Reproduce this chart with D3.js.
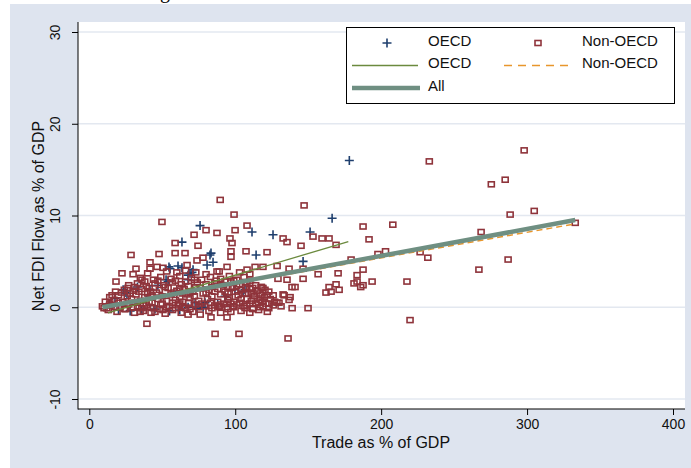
<!DOCTYPE html>
<meta charset="utf-8">
<style>
body { margin: 0; background: #fff; }
svg { display: block; font-family: Arial, "Liberation Sans", sans-serif; }
.axis text { font-size: 14px; fill: #111; }
.axis line { stroke: #000; stroke-width: 1; }
.axis path { display: none; }
.grid line { stroke: #e3e8f0; stroke-width: 1.5; }
.legend text { font-size: 15px; fill: #111; }
</style>
<body>
<div id="chart"></div>
<script src="https://cdnjs.cloudflare.com/ajax/libs/d3/7.8.5/d3.min.js"></script>
<script>
// tick values
var xTicks = [0, 100, 200, 300, 400];
var yTicks = [-10, 0, 10, 20, 30];

// OECD countries: [trade % of GDP, net FDI % of GDP]
var oecdPoints = [
    [178.2, 16.0], [166.4, 9.7], [125.9, 7.9], [151.3, 8.2], [146.5, 5.0], [75.9, 8.9],
    [111.5, 8.2], [63.5, 7.1], [114.3, 5.7], [83.4, 5.9], [84.8, 4.9], [71.1, 4.1],
    [69.0, 3.7], [60.8, 4.5], [105.4, 1.7], [78.0, 0.0], [99.8, 1.9], [72.5, 0.5],
    [55.3, 4.2], [24.5, 1.6], [17.6, 1.0], [52.6, 3.0], [41.6, 1.9], [23.2, 1.9],
    [63.5, 4.3], [67.7, 3.0], [79.3, 0.5], [60.2, 1.7], [25.8, 1.5], [54.0, 2.8],
    [70.4, 3.8], [80.7, 4.6], [67.7, 0.0], [73.8, -0.1], [82.7, 5.7], [54.6, 4.4],
    [67.7, 3.5], [106.7, 1.9], [20, -0.3], [28, -0.4], [36, -0.3], [45, -0.2],
    [55, -0.4], [62, -0.3], [88, 0.3], [93, 1.2], [47, 2.4], [33, 2.2], [14, 0.4], [39, 0.8]
];

// Non-OECD countries
var nonOecdPoints = [
    [233, 15.9], [298, 17.1], [275.5, 13.4], [285, 13.9], [288.4, 10.1], [304.9, 10.5],
    [333, 9.2], [268.5, 8.2], [187.6, 8.8], [208, 9.0], [191.7, 7.4], [203, 6.1],
    [197.8, 5.8], [226.7, 6.0], [232, 5.4], [287, 5.2], [267, 4.1], [187.6, 4.1],
    [193.8, 2.8], [217.7, 2.8], [187.6, 2.4], [186, 2.2], [219.8, -1.4],
    [147.2, 11.1], [132.8, 7.5], [135.5, 7.1], [145.1, 6.7], [153.3, 7.7], [159.5, 7.5],
    [164.3, 7.5], [169.1, 6.8], [121.8, 6.0], [128.7, 4.5], [136.9, 4.2], [146.5, 4.2],
    [179.4, 5.2], [170.5, 3.7], [156.8, 3.6], [129.3, 3.1], [135.5, 3.0], [146.5, 3.1],
    [183.5, 3.5], [181.4, 2.6], [183.5, 2.8], [169.1, 2.5], [164.3, 2.2], [171.2, 1.9],
    [162.2, 1.6], [165.7, 1.7], [138.9, 2.2], [141.0, 2.2], [132.8, 1.4], [137.6, 1.1],
    [149.9, -0.1], [136.2, -3.4], [133.5, 1.3], [136.9, 0.8], [128.6, 0.5], [131.4, 0.1],
    [123.2, 0.4], [118.4, 0.6], [119.0, 2.1], [120.4, 1.9], [121.8, 1.3], [112.2, 1.4],
    [108.1, 0.9], [98.5, 0.1], [94.4, 0.0], [88.9, 0.0], [106.7, -0.1], [112.2, -0.1],
    [139.0, -0.1], [89.7, 11.7], [99.2, 10.1], [71.8, 7.9], [80.0, 8.4], [87.5, 8.1],
    [99.9, 8.4], [108.1, 8.9], [96.4, 7.5], [97.8, 7.0], [74.5, 6.7], [97.1, 6.1],
    [97.1, 5.5], [107.4, 6.1], [65.6, 5.9], [58.8, 7.0], [58.8, 5.9], [73.8, 5.1],
    [77.9, 5.4], [67.0, 4.6], [94.4, 4.4], [87.5, 3.9], [113.6, 4.4], [119.0, 4.4],
    [108.1, 4.1], [117.7, 2.2], [118.4, 1.3], [67.7, -0.8], [83.4, -1.1], [94.4, -1.1],
    [86.2, -2.9], [102.6, -2.9], [49.8, 9.3], [28.6, 5.7], [47.8, 5.8], [41.6, 4.9],
    [32.0, 4.2], [22.4, 3.7], [30.0, 3.6], [41.6, 4.2], [46.4, 4.4], [50.5, 4.3],
    [18.3, 2.8], [26.5, 2.1], [36.1, 3.0], [15.6, 1.3], [10.1, -0.1], [34.8, -0.5],
    [42.3, -0.6], [50.5, -0.3], [39.5, -1.8],
    // dense cluster near the origin
    [13, -0.3], [19, -0.5], [24, -0.2], [31, -0.6], [37, -0.4], [45, -0.5], [52, -0.7],
    [57, -0.3], [63, -0.6], [71, -0.5], [76, -0.8], [82, -0.4], [90, -0.6], [97, -0.5],
    [104, -0.4], [110, -0.6], [116, -0.3], [122, -0.5],
    [12, -0.1], [18, 0.0], [25, -0.2], [30, 0.0], [36, -0.1], [42, 0.0], [48, -0.2], [53, 0.0],
    [59, -0.1], [64, 0.1], [69, -0.2], [75, 0.0], [84, -0.1], [89, 0.1], [95, -0.2], [99, 0.0],
    [106, 0.1], [112, -0.2], [117, 0.0], [123, -0.1],
    [9, 0.1], [15, 0.2], [21, 0.0], [27, 0.3], [33, 0.1], [39, 0.2], [44, -0.1], [49, 0.3],
    [55, 0.1], [61, 0.2], [66, -0.1], [73, 0.3], [79, 0.1], [86, 0.2], [92, 0.4], [101, 0.3],
    [108, 0.2], [114, 0.4], [119, 0.1], [126, 0.2], [130, 0.5],
    [14, 0.4], [20, 0.5], [26, 0.4], [31, 0.5], [37, 0.4], [43, 0.5], [50, 0.4], [57, 0.5],
    [62, 0.4], [68, 0.5], [77, 0.4], [83, 0.5], [90, 0.3], [97, 0.4], [103, 0.5], [110, 0.4],
    [116, 0.5], [121, 0.4], [127, 0.6],
    [11, 0.6], [17, 0.8], [23, 0.6], [29, 0.9], [35, 0.7], [41, 0.6], [47, 0.9], [53, 0.7],
    [59, 0.8], [64, 0.6], [69, 1.0], [75, 0.7], [81, 0.9], [88, 0.6], [95, 0.8], [99, 0.6],
    [104, 0.9], [111, 0.7], [117, 0.8], [124, 0.9],
    [14, 1.1], [20, 1.3], [26, 1.2], [32, 1.4], [38, 1.1], [43, 1.3], [50, 1.2], [56, 1.4],
    [62, 1.1], [67, 1.4], [72, 1.2], [78, 1.5], [84, 1.2], [90, 1.4], [96, 1.1], [102, 1.3],
    [107, 1.5], [113, 1.2], [120, 1.1], [126, 1.3],
    [22, 1.6], [28, 1.5], [34, 1.7], [40, 1.5], [46, 1.6], [58, 1.6], [64, 1.5], [69, 1.7],
    [80, 1.6], [86, 1.7], [95, 1.5], [100, 1.7], [105, 1.5], [111, 1.6], [117, 1.5], [123, 1.7],
    [18, 1.7], [24, 1.9], [30, 1.8], [36, 2.0], [42, 1.7], [48, 1.9], [54, 2.1], [60, 1.8],
    [65, 2.0], [71, 1.7], [76, 2.1], [82, 1.9], [88, 2.0], [93, 1.7], [98, 2.1], [104, 1.9],
    [110, 2.0], [115, 1.8],
    [31, 2.2], [41, 2.1], [52, 2.2], [62, 2.1], [73, 2.2], [84, 2.2], [95, 2.2], [101, 2.3],
    [107, 2.2], [112, 2.1], [118, 2.2],
    [27, 2.4], [33, 2.6], [39, 2.3], [45, 2.6], [51, 2.4], [57, 2.7], [63, 2.5], [68, 2.3],
    [74, 2.7], [80, 2.5], [86, 2.6], [92, 2.4], [97, 2.7], [103, 2.5], [108, 2.6], [114, 2.4],
    [38, 2.8], [47, 2.9], [59, 2.9], [66, 2.8], [72, 3.0], [87, 2.9], [93, 2.8], [99, 2.9], [110, 2.9],
    [35, 3.2], [44, 3.0], [49, 3.3], [56, 3.1], [62, 3.4], [70, 3.2], [77, 3.0], [83, 3.3],
    [90, 3.1], [96, 3.4], [101, 3.0], [106, 3.3],
    [40, 3.7], [53, 3.9], [60, 3.8], [66, 4.0], [73, 3.8], [80, 3.6], [89, 3.9], [103, 3.8], [110, 3.6]
];

// fitted lines (end points)
var fitOecd = [[12.8, -0.6], [177.5, 7.15]];
var fitNonOecd = [[9.5, 0.05], [331.5, 9.05]];
var fitAll = [[9, 0.0], [333, 9.5]];

var W = 691, H = 468;
var plot = { left: 78, right: 685, top: 22, bottom: 409 };

var svg = d3.select("#chart").append("svg")
    .attr("width", W)
    .attr("height", H);

// graph region
svg.append("rect")
    .attr("x", 10).attr("y", 4)
    .attr("width", W - 10).attr("height", H - 4)
    .attr("fill", "#dee4ef");

// bit of text cut off above the figure
svg.append("text")
    .attr("x", 160).attr("y", -2)
    .style("font-family", "'Liberation Serif', serif")
    .style("font-size", "20px")
    .text("g");

svg.append("rect")
    .attr("x", plot.left).attr("y", plot.top)
    .attr("width", plot.right - plot.left).attr("height", plot.bottom - plot.top)
    .attr("fill", "#fff");

var x = d3.scaleLinear().domain([0, 400]).range([89.3, 673]);
var y = d3.scaleLinear().domain([-10, 30]).range([399, 32]);

// grid lines
svg.append("g")
    .attr("class", "grid")
    .selectAll("line")
    .data(yTicks)
    .enter().append("line")
    .attr("x1", plot.left).attr("x2", plot.right)
    .attr("y1", function(d) { return y(d); })
    .attr("y2", function(d) { return y(d); });

// axes
svg.append("g")
    .attr("class", "axis axis--x")
    .attr("transform", "translate(0," + plot.bottom + ")")
    .call(d3.axisBottom(x).tickValues(xTicks).tickSize(6).tickPadding(4)
        .tickFormat(function(d) { return String(d); }));

var yAxis = svg.append("g")
    .attr("class", "axis axis--y")
    .attr("transform", "translate(" + plot.left + ",0)")
    .call(d3.axisLeft(y).tickValues(yTicks).tickSize(6)
        .tickFormat(function(d) { return String(d); }));

yAxis.selectAll("text")
    .attr("transform", "rotate(-90)")
    .attr("x", 0)
    .attr("y", -18)
    .attr("dy", 0)
    .style("text-anchor", "middle");

svg.append("line")
    .attr("x1", plot.left).attr("x2", plot.left)
    .attr("y1", plot.top).attr("y2", plot.bottom + 0.5)
    .attr("stroke", "#000");
svg.append("line")
    .attr("x1", plot.left).attr("x2", plot.right)
    .attr("y1", plot.bottom).attr("y2", plot.bottom)
    .attr("stroke", "#000");

// axis titles
svg.append("text")
    .attr("x", 381).attr("y", 448)
    .style("text-anchor", "middle")
    .style("font-size", "16px")
    .attr("fill", "#111")
    .text("Trade as % of GDP");

svg.append("text")
    .attr("transform", "translate(44,216) rotate(-90)")
    .style("text-anchor", "middle")
    .style("font-size", "16px")
    .attr("fill", "#111")
    .text("Net FDI Flow as % of GDP");

var navy = "#1f3f6e", maroon = "#8f343b", green = "#6b8a3e", orange = "#e8962c", teal = "#6f8f82";

function plus(g, cx, cy) {
    g.append("path")
        .attr("d", "M" + (cx - 4.5) + "," + cy + "H" + (cx + 4.5) + "M" + cx + "," + (cy - 4.5) + "V" + (cy + 4.5))
        .attr("stroke", navy)
        .attr("stroke-width", 1.6)
        .attr("fill", "none");
}

// OECD scatter
var oecd = svg.append("g");
oecdPoints.forEach(function(d) { plus(oecd, x(d[0]), y(d[1])); });

// Non-OECD scatter
svg.append("g")
    .selectAll("rect")
    .data(nonOecdPoints)
    .enter().append("rect")
    .attr("x", function(d) { return x(d[0]) - 3; })
    .attr("y", function(d) { return y(d[1]) - 2.5; })
    .attr("width", 6)
    .attr("height", 5)
    .attr("fill", "none")
    .attr("stroke", maroon)
    .attr("stroke-width", 1.6);

// fit lines
var line = d3.line()
    .x(function(d) { return x(d[0]); })
    .y(function(d) { return y(d[1]); });

svg.append("path").datum(fitOecd)
    .attr("d", line).attr("fill", "none")
    .attr("stroke", green).attr("stroke-width", 1.3);
svg.append("path").datum(fitNonOecd)
    .attr("d", line).attr("fill", "none")
    .attr("stroke", orange).attr("stroke-width", 1.5)
    .attr("stroke-dasharray", "6,4");
svg.append("path").datum(fitAll)
    .attr("d", line).attr("fill", "none")
    .attr("stroke", teal).attr("stroke-width", 4.5);

// legend
var legend = svg.append("g").attr("class", "legend");
legend.append("rect")
    .attr("x", 346.5).attr("y", 27.5)
    .attr("width", 328).attr("height", 76)
    .attr("fill", "#fff")
    .attr("stroke", "#000");

plus(legend, 387, 43);
legend.append("rect")
    .attr("x", 535).attr("y", 40.5)
    .attr("width", 6).attr("height", 5)
    .attr("fill", "none").attr("stroke", maroon).attr("stroke-width", 1.6);
legend.append("line")
    .attr("x1", 352).attr("x2", 418).attr("y1", 65.5).attr("y2", 65.5)
    .attr("stroke", green).attr("stroke-width", 1.3);
legend.append("line")
    .attr("x1", 504).attr("x2", 571).attr("y1", 65.5).attr("y2", 65.5)
    .attr("stroke", orange).attr("stroke-width", 1.5)
    .attr("stroke-dasharray", "8,6");
legend.append("line")
    .attr("x1", 352).attr("x2", 420).attr("y1", 88).attr("y2", 88)
    .attr("stroke", teal).attr("stroke-width", 4.5);

var legendText = [
    ["OECD", 428, 46], ["Non-OECD", 582, 46],
    ["OECD", 428, 68], ["Non-OECD", 582, 68],
    ["All", 428, 91]
];
legend.selectAll("text.item")
    .data(legendText)
    .enter().append("text")
    .attr("class", "item")
    .attr("x", function(d) { return d[1]; })
    .attr("y", function(d) { return d[2]; })
    .text(function(d) { return d[0]; });
</script>
</body>
